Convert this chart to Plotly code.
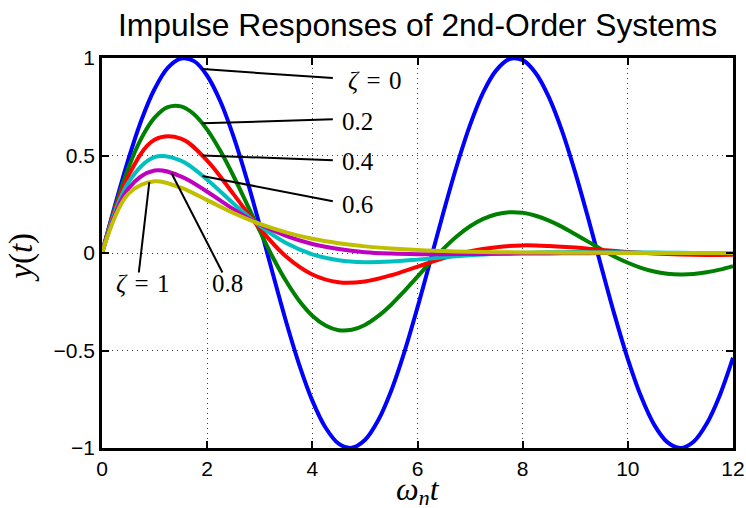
import plotly.graph_objects as go

# Normalised time samples (omega_n * t): fine grid for the two most oscillatory
# responses, coarser grid for the well-damped ones
t_fine = [0, 0.25, 0.5, 0.75, 1, 1.25, 1.5, 1.75, 2, 2.25, 2.5, 2.75, 3, 3.25,
          3.5, 3.75, 4, 4.25, 4.5, 4.75, 5, 5.25, 5.5, 5.75, 6, 6.25, 6.5,
          6.75, 7, 7.25, 7.5, 7.75, 8, 8.25, 8.5, 8.75, 9, 9.25, 9.5, 9.75, 10,
          10.25, 10.5, 10.75, 11, 11.25, 11.5, 11.75, 12]
t = [0, 0.5, 1, 1.5, 2, 2.5, 3, 3.5, 4, 4.5, 5, 5.5, 6, 6.5, 7, 7.5, 8, 8.5, 9,
     9.5, 10, 10.5, 11, 11.5, 12]

# Impulse responses for each damping ratio
y_z0 = [0, 0.247, 0.479, 0.682, 0.841, 0.949, 0.997, 0.984, 0.909, 0.778,
        0.598, 0.382, 0.141, -0.108, -0.351, -0.572, -0.757, -0.895, -0.978,
        -0.999, -0.959, -0.859, -0.706, -0.508, -0.279, -0.033, 0.215, 0.450,
        0.657, 0.824, 0.938, 0.995, 0.989, 0.922, 0.798, 0.625, 0.412, 0.174,
        -0.075, -0.320, -0.544, -0.735, -0.880, -0.970, -1.000, -0.968,
        -0.875, -0.729, -0.537]
y_z02 = [0, 0.235, 0.435, 0.589, 0.694, 0.748, 0.752, 0.712, 0.633, 0.524,
         0.395, 0.255, 0.113, -0.023, -0.144, -0.245, -0.322, -0.372, -0.396,
         -0.394, -0.369, -0.324, -0.265, -0.195, -0.121, -0.046, 0.024, 0.086,
         0.137, 0.175, 0.199, 0.209, 0.206, 0.191, 0.166, 0.134, 0.096, 0.057,
         0.018, -0.019, -0.050, -0.076, -0.095, -0.106, -0.110, -0.108, -0.099,
         -0.085, -0.067]
y_z04 = [0, 0.395, 0.581, 0.587, 0.474, 0.302, 0.126, -0.018, -0.110, -0.150,
         -0.146, -0.114, -0.070, -0.026, 0.009, 0.030, 0.039, 0.036, 0.028,
         0.016, 0.005, -0.003, -0.008, -0.010, -0.009]
y_z06 = [0, 0.361, 0.492, 0.474, 0.376, 0.254, 0.140, 0.051, -0.007, -0.037,
         -0.047, -0.044, -0.034, -0.022, -0.012, -0.004, 0.001, 0.004, 0.0045,
         0.004, 0.003, 0.002, 0.001, 0.0003, -0.0002]
y_z08 = [0, 0.330, 0.423, 0.393, 0.314, 0.225, 0.147, 0.088, 0.046, 0.020,
         0.004, -0.003, -0.006, -0.006, -0.005, -0.004, -0.003, -0.002, -0.001,
         -0.0005, -0.0002, 0, 0, 0, 0]
y_z1 = [0, 0.303, 0.368, 0.335, 0.271, 0.205, 0.149, 0.106, 0.073, 0.050,
        0.034, 0.023, 0.015, 0.010, 0.006, 0.004, 0.003, 0.002, 0.001, 0.0007,
        0.0005, 0.0003, 0.0002, 0.0001, 0.0001]

series = [(t_fine, y_z0), (t_fine, y_z02), (t, y_z04), (t, y_z06), (t, y_z08),
          (t, y_z1)]
colors = ["rgb(0,0,255)", "rgb(0,128,0)", "rgb(255,0,0)",
          "rgb(0,191,191)", "rgb(191,0,191)", "rgb(191,191,0)"]

# Label text, label anchor and leader-line endpoints (curve point -> label)
label_text = ["<i>ζ</i>\u2004=\u20040", "0.2", "0.4", "0.6", "0.8",
              "<i>ζ</i>\u2004=\u20041"]
label_x = [5.715, 4.53, 4.53, 4.53, 2.05, 1.32]
label_anchor = ["right", "left", "left", "left", "left", "right"]
label_y = [0.885, 0.675, 0.467, 0.251, -0.157, -0.157]
lead_x0 = [1.91, 1.91, 1.91, 1.91, 1.32, 0.90]
lead_y0 = [0.943, 0.665, 0.500, 0.395, 0.410, 0.364]
lead_x1 = [4.39, 4.39, 4.39, 4.39, 2.29, 0.70]
lead_y1 = [0.897, 0.686, 0.476, 0.265, -0.100, -0.100]

fig = go.Figure()
for (xs, ys), c in zip(series, colors):
    fig.add_trace(go.Scatter(x=xs, y=ys, mode="lines",
                             line=dict(color=c, width=4, shape="spline",
                                       smoothing=1.0),
                             showlegend=False, hoverinfo="skip"))

for x0, y0, x1, y1 in zip(lead_x0, lead_y0, lead_x1, lead_y1):
    fig.add_shape(type="line", x0=x0, y0=y0, x1=x1, y1=y1, xref="x", yref="y",
                  line=dict(color="black", width=2), layer="above")

serif = "Liberation Serif, Times New Roman, serif"
for txt, x, y, anc in zip(label_text, label_x, label_y, label_anchor):
    fig.add_annotation(x=x, y=y, xref="x", yref="y", text=txt, showarrow=False,
                       xanchor=anc, yanchor="middle",
                       font=dict(family=serif, size=25, color="black"))

# Title and axis labels
fig.add_annotation(x=0.5, y=1.085, xref="paper", yref="paper",
                   text="Impulse Responses of 2nd-Order Systems",
                   showarrow=False, xanchor="center", yanchor="middle",
                   font=dict(family="Liberation Sans, Arial, sans-serif",
                             size=31.8, color="black"))
fig.add_annotation(x=-0.127, y=0.49, xref="paper", yref="paper",
                   text="<i>y</i>(<i>t</i>)", textangle=-90, showarrow=False,
                   xanchor="center", yanchor="middle",
                   font=dict(family=serif, size=33, color="black"))
fig.add_annotation(x=0.5, y=-0.11, xref="paper", yref="paper",
                   text="<i>ω<sub>n</sub>t</i>", showarrow=False,
                   xanchor="center", yanchor="middle", height=28,
                   font=dict(family=serif, size=32, color="black"))

axis_common = dict(showline=True, linecolor="black", linewidth=2.5,
                   mirror="allticks", ticks="inside", ticklen=7, tickwidth=1.5,
                   tickcolor="black", showgrid=True, gridcolor="rgb(60,60,60)",
                   gridwidth=1, griddash="1px,4px", zeroline=False,
                   automargin=False,
                   tickfont=dict(family="Liberation Sans, Arial, sans-serif",
                                 size=21, color="black"))

fig.update_xaxes(range=[0, 12], tickvals=[0, 2, 4, 6, 8, 10, 12],
                 ticktext=["0", "2", "4", "6", "8", "10", "12"], **axis_common)
fig.update_yaxes(range=[-1, 1], tickvals=[-1, -0.5, 0, 0.5, 1],
                 ticktext=["\u22121", "\u22120.5", "0", "0.5", "1"],
                 **axis_common)

fig.update_layout(width=746, height=508,
                  margin=dict(l=102, r=13, t=58, b=60),
                  paper_bgcolor="white", plot_bgcolor="white")

fig.write_html("out.html")
